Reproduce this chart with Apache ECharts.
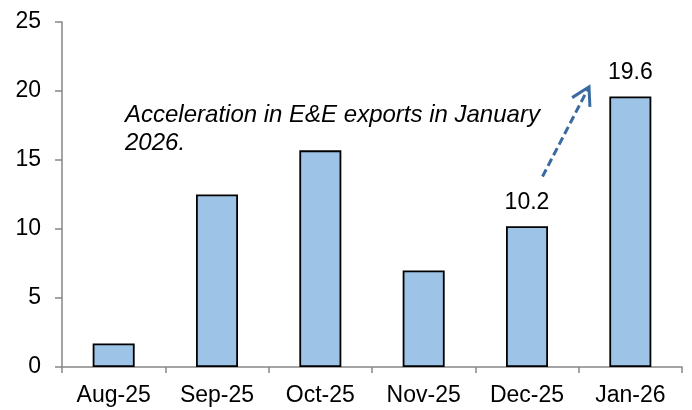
<!DOCTYPE html>
<html>
<head>
<meta charset="utf-8">
<script src="https://cdn.jsdelivr.net/npm/echarts@6/dist/echarts.min.js"></script>
<style>
html,body{margin:0;padding:0;background:#fff;}
#chart{width:692px;height:410px;}
</style>
</head>
<body>
<div id="chart"></div>
<script>
const categories = ['Aug-25', 'Sep-25', 'Oct-25', 'Nov-25', 'Dec-25', 'Jan-26'];
const values = [1.7, 12.5, 15.7, 7.0, 10.2, 19.6];
const showLabel = [false, false, false, false, true, true];
const yMin = 0, yMax = 25, yInterval = 5;
const annotationText = 'Acceleration in E&E exports in January\n2026.';
// arrow anchors: [category index, fraction of band offset, y value]
const arrowFrom = [4, 0.15, 13.8];
const arrowTo = [4, 0.60, 20.3];

const FONT = '"Liberation Sans", Arial, sans-serif';
const chart = echarts.init(document.getElementById('chart'), null, {renderer: 'canvas'});

const option = {
  animation: false,
  backgroundColor: '#ffffff',
  grid: {left: 62, right: 10, top: 22, bottom: 43, containLabel: false},
  xAxis: {
    type: 'category',
    data: categories,
    boundaryGap: true,
    axisLine: {show: true, lineStyle: {color: '#868686', width: 1.5}},
    axisTick: {show: true, alignWithLabel: false, length: 6, lineStyle: {color: '#868686', width: 1.5}},
    axisLabel: {color: '#000', fontSize: 23, fontFamily: FONT, margin: 17, interval: 0}
  },
  yAxis: {
    type: 'value',
    min: yMin, max: yMax, interval: yInterval,
    splitLine: {show: false},
    axisLine: {show: true, lineStyle: {color: '#868686', width: 1.5}},
    axisTick: {show: true, inside: false, length: 7, lineStyle: {color: '#868686', width: 1.5}},
    axisLabel: {color: '#000', fontSize: 23, fontFamily: FONT, margin: 21}
  },
  series: [{
    type: 'bar',
    barWidth: 42,
    data: values.map((v, i) => ({
      value: v,
      label: {show: showLabel[i]}
    })),
    itemStyle: {color: '#9dc3e6', borderColor: '#000', borderWidth: 1.8},
    label: {
      position: 'top', distance: 12, color: '#000',
      fontSize: 23, fontFamily: FONT,
      formatter: p => p.value.toFixed(1)
    }
  }]
};
chart.setOption(option);

function anchorPixel(a) {
  const p0 = chart.convertToPixel({seriesIndex: 0}, [a[0], a[2]]);
  const p1 = chart.convertToPixel({seriesIndex: 0}, [a[0] + 1, a[2]]);
  return [p0[0] + a[1] * (p1[0] - p0[0]), p0[1]];
}
const s = anchorPixel(arrowFrom);
const t = anchorPixel(arrowTo);
const ang = Math.atan2(s[1] - t[1], s[0] - t[0]);
const L = 20, spread = Math.PI / 6;
const a1 = [t[0] + L * Math.cos(ang + spread), t[1] + L * Math.sin(ang + spread)];
const a2 = [t[0] + L * Math.cos(ang - spread), t[1] + L * Math.sin(ang - spread)];
const arrowColor = '#3b6aa0';

chart.setOption({
  graphic: [
    {
      type: 'text', left: 125, top: 101,
      style: {
        text: annotationText, fill: '#000',
        font: 'italic 24px ' + FONT, lineHeight: 28
      }
    },
    {
      type: 'line',
      shape: {x1: s[0], y1: s[1], x2: t[0], y2: t[1]},
      style: {stroke: arrowColor, lineWidth: 3, lineDash: [8, 4]}
    },
    {
      type: 'polyline',
      shape: {points: [a1, t, a2]},
      style: {stroke: arrowColor, lineWidth: 3, fill: null, lineJoin: 'miter'}
    }
  ]
});
</script>
</body>
</html>
